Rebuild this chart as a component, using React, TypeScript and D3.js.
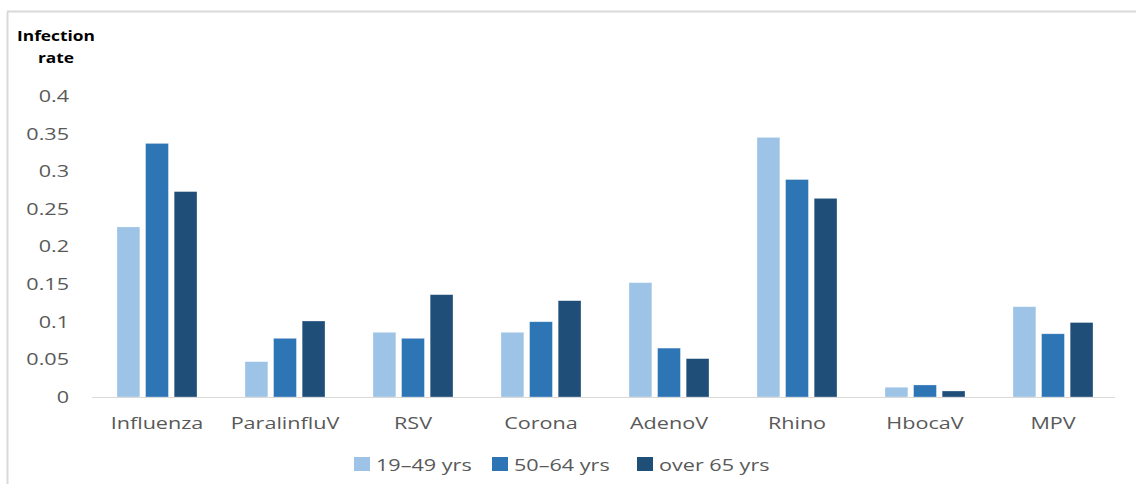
import React from "react";
import * as d3 from "d3";

const categories = ["Influenza", "ParalinfluV", "RSV", "Corona", "AdenoV", "Rhino", "HbocaV", "MPV"];
const seriesNames = ["19\u201349 yrs", "50\u201364 yrs", "over 65 yrs"];
const colors = ["#9DC3E6", "#2E75B6", "#1F4E79"];
const age19to49 = [0.226, 0.047, 0.086, 0.086, 0.152, 0.345, 0.013, 0.12];
const age50to64 = [0.337, 0.078, 0.078, 0.1, 0.065, 0.289, 0.016, 0.084];
const over65 = [0.273, 0.101, 0.136, 0.128, 0.051, 0.264, 0.008, 0.099];
const yTicks = [0, 0.05, 0.1, 0.15, 0.2, 0.25, 0.3, 0.35, 0.4];

const series = [age19to49, age50to64, over65];

const W = 1136;
const H = 484;
const FONT = "'Open Sans', 'Noto Sans', sans-serif";

function T(props: { x: number; y: number; sx?: number; anchor?: string; size?: number; weight?: number; fill?: string; dy?: string; children: React.ReactNode }) {
  const { x, y, sx = 1.27, anchor = "start", size = 17, weight = 400, fill = "#595959", dy, children } = props;
  return (
    <text
      transform={`translate(${x},${y}) scale(${sx},1)`}
      dy={dy}
      textAnchor={anchor}
      fontFamily={FONT}
      fontSize={size}
      fontWeight={weight}
      fill={fill}
    >
      {children}
    </text>
  );
}

export default function App() {
  const x0 = d3.scaleBand<string>().domain(categories).range([93, 1117]).paddingInner(0.375).paddingOuter(0.1875);
  const x1 = d3.scaleBand<number>().domain([0, 1, 2]).range([0, x0.bandwidth()]).paddingInner(0.2);
  const y = d3.scaleLinear().domain([0, 0.4]).range([397, 96]);

  const legendX = [354, 492, 637];

  return (
    <svg width={W} height={H} style={{ position: "absolute", left: 0, top: 0, background: "#fff" }}>
      <rect x={0} y={0} width={W} height={H} fill="#fff" />
      <line x1={7.5} y1={12} x2={7.5} y2={H} stroke="#d9d9d9" strokeWidth={2} />
      <line x1={7} y1={11.5} x2={W} y2={11.5} stroke="#d9d9d9" strokeWidth={2} />
      <T x={56} y={41} anchor="middle" size={14} weight={700} fill="#000" sx={1.24}>Infection</T>
      <T x={56} y={63} anchor="middle" size={14} weight={700} fill="#000" sx={1.24}>rate</T>
      {yTicks.map((t) => (
        <T key={t} x={69} y={y(t)} dy="0.35em" anchor="end">
          {d3.format("~g")(t)}
        </T>
      ))}
      {categories.map((c, i) => (
        <g key={c} transform={`translate(${x0(c)},0)`}>
          {series.map((s, j) => (
            <rect key={j} x={x1(j)} y={y(s[i])} width={x1.bandwidth()} height={y(0) - y(s[i])} fill={colors[j]} stroke="#fff" strokeOpacity={0.5} strokeWidth={0.6} />
          ))}
        </g>
      ))}
      <line x1={92} x2={1115} y1={397.5} y2={397.5} stroke="#d9d9d9" strokeWidth={1} />
      {categories.map((c) => (
        <T key={c} x={(x0(c) as number) + x0.bandwidth() / 2} y={429} anchor="middle">
          {c}
        </T>
      ))}
      {seriesNames.map((n, j) => (
        <g key={n}>
          <rect x={legendX[j]} y={457} width={16} height={14} fill={colors[j]} />
          <T x={legendX[j] + 22} y={471}>{n}</T>
        </g>
      ))}
    </svg>
  );
}
